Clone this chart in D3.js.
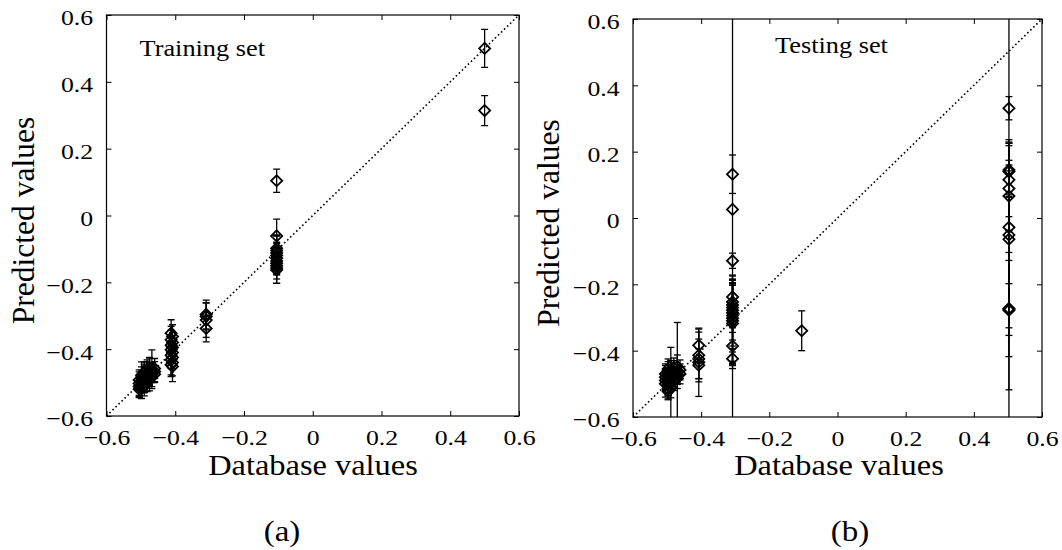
<!DOCTYPE html>
<html>
<head>
<meta charset="utf-8">
<script src="https://cdn.jsdelivr.net/npm/d3@7"></script>
<style>
body { margin: 0; background: #fff; }
svg text { font-family: "Liberation Serif", "Times New Roman", serif; fill: #000; }
</style>
</head>
<body>
<svg id="chart" width="1062" height="550" font-family="Liberation Serif"></svg>
<script>
var tickValues = [-0.6, -0.4, -0.2, 0, 0.2, 0.4, 0.6];

// training set: database value, predicted value, error
var trainX = [0.50, 0.50,
	-0.105, -0.105, -0.105, -0.105, -0.105, -0.105, -0.105, -0.105, -0.105, -0.105, -0.105, -0.105,
	-0.31, -0.31, -0.31, -0.31,
	-0.412, -0.408, -0.412, -0.408, -0.412, -0.408, -0.412, -0.408, -0.412, -0.408, -0.412, -0.408, -0.412, -0.408,
	-0.505, -0.505, -0.505, -0.505,
	-0.498, -0.498, -0.498, -0.498, -0.498,
	-0.49, -0.49, -0.49, -0.49, -0.49,
	-0.482, -0.482, -0.482, -0.482,
	-0.475, -0.475, -0.475, -0.475,
	-0.468, -0.468, -0.468,
	-0.46, -0.46, -0.46];
var trainY = [0.500, 0.314,
	0.104, -0.061, -0.098, -0.105, -0.112, -0.120, -0.128, -0.136, -0.143, -0.150, -0.157, -0.163,
	-0.296, -0.302, -0.313, -0.338,
	-0.352, -0.362, -0.372, -0.380, -0.388, -0.395, -0.402, -0.410, -0.418, -0.425, -0.432, -0.440, -0.447, -0.452,
	-0.492, -0.503, -0.512, -0.520,
	-0.478, -0.488, -0.497, -0.507, -0.518,
	-0.468, -0.480, -0.490, -0.500, -0.510,
	-0.462, -0.473, -0.485, -0.497,
	-0.455, -0.467, -0.478, -0.490,
	-0.460, -0.470, -0.482,
	-0.458, -0.467, -0.475];
var trainErr = [0.057, 0.045,
	0.035, 0.050, 0.040, 0.045, 0.050, 0.040, 0.045, 0.040, 0.035, 0.040, 0.046, 0.040,
	0.043, 0.040, 0.052, 0.040,
	0.040, 0.035, 0.040, 0.030, 0.045, 0.035, 0.040, 0.030, 0.040, 0.035, 0.045, 0.040, 0.035, 0.045,
	0.030, 0.035, 0.030, 0.025,
	0.040, 0.035, 0.030, 0.040, 0.030,
	0.030, 0.035, 0.040, 0.030, 0.030,
	0.030, 0.035, 0.030, 0.030,
	0.030, 0.040, 0.030, 0.035,
	0.058, 0.030, 0.030,
	0.030, 0.030, 0.025];

// testing set
var testX = [0.503, 0.503, 0.503, 0.503, 0.503, 0.503, 0.503, 0.503, 0.503, 0.503, 0.503, 0.503,
	-0.308, -0.308, -0.308, -0.308, -0.308, -0.308, -0.308, -0.308, -0.308, -0.308, -0.308, -0.308, -0.308, -0.308, -0.308,
	-0.105,
	-0.407, -0.407, -0.407, -0.407, -0.407,
	-0.505, -0.505, -0.505, -0.505,
	-0.497, -0.497, -0.497, -0.497, -0.497, -0.497, -0.497,
	-0.489, -0.489, -0.489, -0.489, -0.489,
	-0.48, -0.48, -0.48, -0.48,
	-0.47, -0.47, -0.47, -0.47,
	-0.462, -0.462];
var testY = [0.331, 0.145, 0.140, 0.115, 0.089, 0.066, -0.028, -0.051, -0.064, -0.273, -0.278, -0.275,
	0.132, 0.026, -0.129, -0.238, -0.253, -0.262, -0.270, -0.278, -0.286, -0.294, -0.302, -0.310, -0.318, -0.386, -0.424,
	-0.340,
	-0.384, -0.414, -0.425, -0.435, -0.444,
	-0.470, -0.480, -0.490, -0.500,
	-0.455, -0.468, -0.480, -0.492, -0.505, -0.515, -0.523,
	-0.460, -0.472, -0.485, -0.500, -0.512,
	-0.452, -0.465, -0.478, -0.490,
	-0.448, -0.460, -0.472, -0.484,
	-0.458, -0.470];
var testErr = [0.035, 0.080, 0.078, 0.045, 0.085, 0.170, 0.170, 0.280, 0.290, 0.145, 0.240, 1.000,
	0.058, 0.900, 0.023, 0.050, 0.050, 0.060, 0.075, 0.090, 0.100, 0.110, 0.130, 0.135, 0.120, 0.055, 0.030,
	0.060,
	0.049, 0.070, 0.060, 0.103, 0.050,
	0.030, 0.035, 0.030, 0.040,
	0.030, 0.035, 0.030, 0.035, 0.030, 0.030, 0.025,
	0.030, 0.035, 0.030, 0.110, 0.030,
	0.030, 0.035, 0.030, 0.030,
	0.035, 0.145, 0.030, 0.030,
	0.030, 0.030];

var svg = d3.select('#chart');
var fmt = function(d) { return d === 0 ? '0' : d3.format('.1f')(d); };

function drawPanel(xs, ys, errs, p) {
	var x = d3.scaleLinear().domain([-0.6, 0.6]).range([p.left, p.right]);
	var y = d3.scaleLinear().domain([-0.6, 0.6]).range([p.bottom, p.top]);
	var g = svg.append('g');

	g.append('clipPath').attr('id', 'clip-' + p.id)
		.append('rect')
			.attr('x', p.left).attr('y', p.top)
			.attr('width', p.right - p.left).attr('height', p.bottom - p.top);

	function styleAxis(a, labels) {
		a.attr('font-size', 22).attr('font-family', 'Liberation Serif');
		a.select('.domain').remove();
		a.selectAll('.tick line').attr('stroke-width', 1);
		if (!labels) a.selectAll('.tick text').remove();
	}

	g.append('g').attr('transform', 'translate(0,' + p.bottom + ')')
		.call(d3.axisBottom(x).tickValues(tickValues).tickSizeInner(-5).tickSizeOuter(0).tickPadding(13).tickFormat(fmt))
		.call(styleAxis, true)
		.selectAll('.tick text').attr('transform', 'scale(1.17,1)');

	g.append('g').attr('transform', 'translate(' + p.left + ',0)')
		.call(d3.axisLeft(y).tickValues(tickValues).tickSizeInner(-5).tickSizeOuter(0).tickPadding(11.5).tickFormat(fmt))
		.call(styleAxis, true)
		.selectAll('.tick text').attr('dy', '0.45em').attr('transform', 'scale(1.17,1)');

	g.append('g').attr('transform', 'translate(0,' + p.top + ')')
		.call(d3.axisTop(x).tickValues(tickValues).tickSizeInner(-5).tickSizeOuter(0))
		.call(styleAxis, false);

	g.append('g').attr('transform', 'translate(' + p.right + ',0)')
		.call(d3.axisRight(y).tickValues(tickValues).tickSizeInner(-5).tickSizeOuter(0))
		.call(styleAxis, false);

	g.append('rect')
		.attr('x', p.left).attr('y', p.top)
		.attr('width', p.right - p.left).attr('height', p.bottom - p.top)
		.attr('fill', 'none').attr('stroke', '#000').attr('stroke-width', 1.2);

	// y = x reference line
	g.append('path')
		.datum([-0.6, 0.6])
		.attr('d', d3.line().x(function(d) { return x(d); }).y(function(d) { return y(d); }))
		.attr('fill', 'none').attr('stroke', '#000')
		.attr('stroke-width', 1.6).attr('stroke-dasharray', '1.6 2.6');

	var data = xs.map(function(d, i) { return { x: d, y: ys[i], e: errs[i] }; });

	var bars = g.append('g').attr('clip-path', 'url(#clip-' + p.id + ')')
		.selectAll('g').data(data).enter().append('g')
			.attr('stroke', '#000').attr('stroke-width', 1.3);
	bars.append('line')
		.attr('x1', function(d) { return x(d.x); }).attr('x2', function(d) { return x(d.x); })
		.attr('y1', function(d) { return y(d.y - d.e); }).attr('y2', function(d) { return y(d.y + d.e); });
	[-1, 1].forEach(function(s) {
		bars.append('line')
			.attr('x1', function(d) { return x(d.x) - 3.5; }).attr('x2', function(d) { return x(d.x) + 3.5; })
			.attr('y1', function(d) { return y(d.y + s * d.e); }).attr('y2', function(d) { return y(d.y + s * d.e); });
	});

	g.append('g').selectAll('path').data(data).enter().append('path')
		.attr('d', d3.symbol().type(d3.symbolSquare).size(62))
		.attr('transform', function(d) { return 'translate(' + x(d.x) + ',' + y(d.y) + ') rotate(45)'; })
		.attr('fill', 'none').attr('stroke', '#000').attr('stroke-width', 1.8);

	g.append('text')
		.attr('transform', 'translate(' + p.titleX + ',' + p.titleY + ') scale(1.12,1)')
		.attr('font-size', 23.5)
		.text(p.title);

	g.append('text')
		.attr('transform', 'translate(' + p.yLabelX + ',' + ((p.top + p.bottom) / 2 + 5) + ') rotate(-90)')
		.attr('text-anchor', 'middle')
		.attr('font-size', 31.5)
		.text('Predicted values');

	g.append('text')
		.attr('transform', 'translate(' + p.xLabelX + ',475) scale(1.08,1)')
		.attr('text-anchor', 'middle')
		.attr('font-size', 30)
		.text('Database values');

	g.append('text')
		.attr('transform', 'translate(' + p.capX + ',541) scale(1.1,1)')
		.attr('text-anchor', 'middle')
		.attr('font-size', 30)
		.text(p.caption);
}

drawPanel(trainX, trainY, trainErr, {
	id: 'a', left: 106.5, right: 519, top: 15, bottom: 416,
	title: 'Training set', titleX: 139.5, titleY: 55.5,
	yLabelX: 34, xLabelX: 313, capX: 282, caption: '(a)'
});

drawPanel(testX, testY, testErr, {
	id: 'b', left: 633, right: 1042, top: 19, bottom: 417,
	title: 'Testing set', titleX: 775, titleY: 52.5,
	yLabelX: 559, xLabelX: 839, capX: 850, caption: '(b)'
});
</script>
</body>
</html>
